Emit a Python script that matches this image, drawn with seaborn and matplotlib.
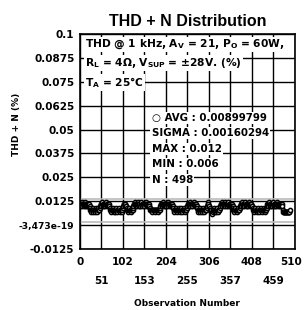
import matplotlib
matplotlib.use("Agg")
import matplotlib.pyplot as plt
import matplotlib.transforms as mtrans
import seaborn as sns
import numpy as np
import pandas as pd

# THD+N values in thousandths of a percent, observations 1..498
thd_milli = [
    11,11,10,12,11,10,11,11,10,11,12,11,10,10,11,11,10,11,11,10,10,11,10,
    9,8,8,7,8,8,9,8,7,8,8,8,7,8,9,8,8,7,8,8,9,8,8,9,
    10,11,11,10,11,12,11,10,11,11,10,10,11,11,12,11,10,11,10,11,11,10,10,
    9,8,8,7,8,8,8,9,8,7,8,8,7,8,8,9,8,8,7,8,8,8,9,8,7,8,8,8,7,8,9,9,
    10,11,11,10,11,11,10,10,
    9,8,8,7,8,8,9,8,8,7,8,8,8,9,8,9,
    10,11,11,12,11,10,11,11,10,11,12,11,10,11,11,10,10,11,11,12,11,10,11,11,10,11,10,11,11,12,11,10,10,11,11,10,11,10,10,
    9,8,8,8,8,8,7,8,8,8,8,8,7,8,8,8,8,8,8,7,8,8,8,8,9,
    10,11,11,10,11,11,12,11,10,11,10,11,11,10,10,11,11,12,11,10,11,11,10,11,10,10,11,11,10,10,
    9,8,8,7,8,8,9,8,8,7,8,8,8,9,8,8,7,8,8,9,8,8,7,8,8,8,9,8,7,8,8,8,9,9,
    10,11,11,10,11,12,11,10,11,11,10,11,10,11,11,12,11,10,10,11,11,10,10,
    9,8,8,7,8,8,9,8,7,8,8,8,7,8,9,8,8,7,8,8,9,8,8,9,
    10,11,12,11,10,10,
    9,8,7,8,8,7,6,7,8,8,9,8,7,8,8,7,8,8,9,8,7,8,8,8,9,
    10,11,11,12,11,10,11,11,10,11,12,11,10,11,11,10,10,11,11,12,11,10,11,11,10,11,10,11,10,10,
    9,8,8,7,8,8,9,8,8,7,8,8,8,9,8,8,9,
    10,11,11,10,11,12,11,10,11,11,10,11,12,11,10,11,11,10,10,11,11,12,11,10,11,10,11,11,10,10,
    9,8,8,7,8,8,9,8,8,7,8,8,8,9,8,8,7,8,8,9,8,8,7,8,8,8,9,8,7,8,8,8,9,9,
    10,11,11,10,11,12,11,10,11,11,10,11,10,11,11,12,11,10,10,11,11,10,11,12,11,10,11,11,10,11,10,11,11,10,10,11,10,
    8,7,7,7,7,7,7,7,7,7,7,7,7,7,7,7,7,8,
]
assert len(thd_milli) == 498

x_ticks = [0, 51, 102, 153, 204, 255, 306, 357, 408, 459, 510]
x_labels = ["0", "51", "102", "153", "204", "255", "306", "357", "408", "459", "510"]
y_ticks = [-0.0125, 0.0, 0.0125, 0.025, 0.0375, 0.05, 0.0625, 0.075, 0.0875, 0.1]
y_labels = ["-0.0125", "-3,473e-19", "0.0125", "0.025", "0.0375", "0.05", "0.0625", "0.075", "0.0875", "0.1"]
ucl, lcl = 0.0138, 0.0018

stats_lines = ["\u25cb AVG : 0.00899799", "SIGMA : 0.00160294", "MAX : 0.012", "MIN : 0.006", "N : 498"]
header_lines = [r"THD @ 1 kHz, A$_\mathregular{V}$ = 21, P$_\mathregular{O}$ = 60W,",
                r"R$_\mathregular{L}$ = 4Ω, V$_\mathregular{SUP}$ = ±28V. (%)",
                r"T$_\mathregular{A}$ = 25°C"]

df = pd.DataFrame({"obs": np.arange(1, len(thd_milli) + 1),
                   "thd": np.array(thd_milli) / 1000.0})

sns.set_style("white")
plt.rcParams["font.family"] = ["DejaVu Sans"]
plt.rcParams["text.color"] = "black"
plt.rcParams["axes.labelcolor"] = "black"
plt.rcParams["xtick.color"] = "black"
plt.rcParams["ytick.color"] = "black"

fig = plt.figure(figsize=(3.04, 3.10), dpi=100)
ax = fig.add_axes([0.263, 0.197, 0.707, 0.693])

ax.set_xlim(0, 510)
ax.set_ylim(-0.0125, 0.1)
ax.set_xticks(x_ticks)
ax.set_yticks(y_ticks)
ax.grid(True, color="black", linewidth=1.0)
ax.set_axisbelow(True)

ax.axhline(ucl, color="#bbbbbb", linewidth=1.2, zorder=1.5)
ax.axhline(lcl, color="#bbbbbb", linewidth=1.2, zorder=1.5)

sns.scatterplot(data=df, x="obs", y="thd", ax=ax, marker="o", s=9,
                facecolor="white", edgecolor="black", linewidth=1.1, zorder=2.5, legend=False)

ax.set_xticklabels(x_labels, fontsize=7.5, fontweight="bold")
ax.set_yticklabels(y_labels, fontsize=7.5, fontweight="bold")
ax.tick_params(axis="y", length=0, pad=4)
ax.tick_params(axis="x", length=0, pad=6)
xlabs = ax.get_xticklabels()
for i, lab in enumerate(xlabs):
    if i % 2 == 1:
        lab.set_y(-0.085)
xlabs[-1].set_transform(xlabs[-1].get_transform() +
                        mtrans.ScaledTranslation(-4 / 100, 0, fig.dpi_scale_trans))
ylabs = ax.get_yticklabels()
ylabs[1].set_fontsize(6.6)
for s in ax.spines.values():
    s.set_color("black")
    s.set_linewidth(1.2)

ax.set_xlabel("Observation Number", fontsize=6.5, fontweight="bold")
ax.xaxis.set_label_coords(0.5, -0.235)
ax.set_ylabel("THD + N (%)", fontsize=6.5, fontweight="bold")
ax.yaxis.set_label_coords(-0.275, 0.58)
ax.set_title("THD + N Distribution", fontsize=11.5, fontweight="bold",
             family="Liberation Sans", pad=6, color="black")

bbox = dict(facecolor="white", edgecolor="none", pad=0.8)
for yv, line in zip([0.0945, 0.0848, 0.0748], header_lines):
    ax.text(12, yv, line, fontsize=7.7, fontweight="bold", va="center", ha="left",
            bbox=bbox, zorder=4)

for yv, line in zip([0.0562, 0.0481, 0.0400, 0.0319, 0.0237], stats_lines):
    ax.text(170, yv, line, fontsize=7.4, fontweight="bold", va="center", ha="left",
            bbox=bbox, zorder=4)

fig.savefig("out.png", dpi=100)
